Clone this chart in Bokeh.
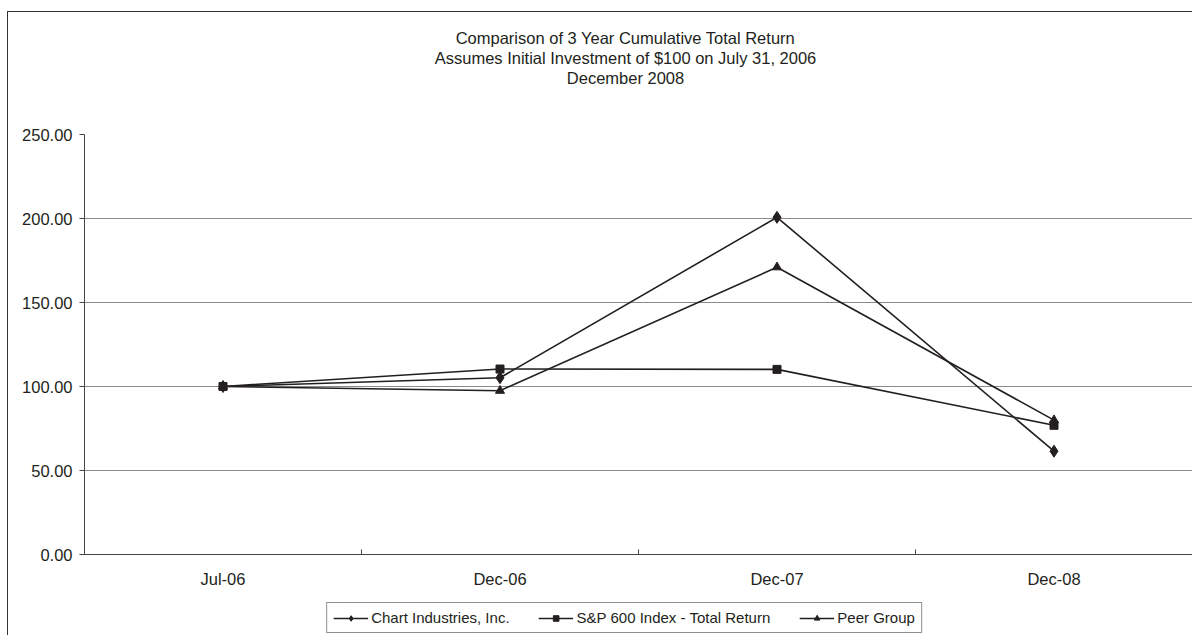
from bokeh.plotting import figure
from bokeh.embed import file_html
from bokeh.resources import INLINE
from bokeh.layouts import column
from bokeh.models import (FixedTicker, NumeralTickFormatter, Legend, LegendItem,
                          Range1d, Title)

categories = ["Jul-06", "Dec-06", "Dec-07", "Dec-08"]
chart_vals = [100.0, 105.2, 200.7, 61.5]
sp600_vals = [100.0, 110.4, 110.2, 76.9]
peer_vals = [100.0, 97.5, 171.0, 80.0]
y_ticks = [0, 50, 100, 150, 200, 250]
series_names = ["Chart Industries, Inc.", "S&P 600 Index - Total Return", "Peer Group"]
title_lines = ["Comparison of 3 Year Cumulative Total Return",
               "Assumes Initial Investment of $100 on July 31, 2006",
               "December 2008"]

FONT = "Liberation Sans"
INK = "#231f20"
FS = "16.5px"

xs = [i + 0.5 for i in range(len(categories))]

# ---- header strip with the three title lines ----
hd = figure(width=1184, height=80, output_backend="svg", toolbar_location=None,
            x_range=Range1d(0, 1), y_range=Range1d(0, 1),
            x_axis_type=None, y_axis_type=None, frame_align=False,
            min_border_left=50, min_border_right=0, min_border_top=74,
            min_border_bottom=4, outline_line_color=None, title_location=None)
hd.grid.visible = False
for line in reversed(title_lines):  # first added sits nearest the frame
    hd.add_layout(Title(text=line, align="center", text_font=FONT,
                        text_font_size=FS, text_font_style="normal",
                        text_color=INK, standoff=0), "above")

# ---- main chart ----
p = figure(width=1184, height=502, output_backend="svg", toolbar_location=None,
           x_range=Range1d(0, len(categories)), y_range=Range1d(0, 250),
           min_border_left=76, min_border_right=0, min_border_top=42,
           min_border_bottom=40, outline_line_color=None, title_location=None)

p.yaxis.ticker = FixedTicker(ticks=y_ticks)
p.yaxis.formatter = NumeralTickFormatter(format="0.00")
p.yaxis.major_tick_out = 5
p.yaxis.major_tick_in = 0
p.yaxis.minor_tick_line_color = None
p.yaxis.major_label_standoff = 7
p.yaxis.axis_line_color = "#444"
p.yaxis.major_tick_line_color = "#444"
p.yaxis.major_label_text_font = FONT
p.yaxis.major_label_text_font_size = FS
p.yaxis.major_label_text_color = INK

p.xaxis.ticker = FixedTicker(ticks=xs, minor_ticks=list(range(len(categories) + 1)))
p.xaxis.major_label_overrides = {x: c for x, c in zip(xs, categories)}
p.xaxis.major_tick_in = 0
p.xaxis.major_tick_out = 0
p.xaxis.minor_tick_in = 5
p.xaxis.minor_tick_out = 0
p.xaxis.minor_tick_line_color = "#444"
p.xaxis.axis_line_color = "#444"
p.xaxis.major_label_standoff = 15
p.xaxis.major_label_text_font = FONT
p.xaxis.major_label_text_font_size = FS
p.xaxis.major_label_text_color = INK

p.xgrid.visible = False
p.ygrid.grid_line_color = "#8a8a8a"
p.ygrid.grid_line_width = 1.2

specs = [(chart_vals, "diamond", 12), (sp600_vals, "square", 8), (peer_vals, "triangle", 9)]
for vals, marker, size in specs:
    p.line(xs, vals, line_color=INK, line_width=1.6)
    p.scatter(xs, vals, marker=marker, size=size, fill_color=INK, line_color=INK)

# ---- legend strip below the chart ----
lg = figure(width=1184, height=41, output_backend="svg", toolbar_location=None,
            x_range=Range1d(0, 1), y_range=Range1d(-1, 0),
            x_axis_type=None, y_axis_type=None, frame_align=False,
            min_border_left=48, min_border_right=0, min_border_top=0,
            min_border_bottom=0, outline_line_color=None, title_location=None)
lg.grid.visible = False
items = []
for name, (vals, marker, size) in zip(series_names, specs):
    # same series, drawn outside this strip's visible range: only the legend keys show
    ln = lg.line(xs, vals, line_color=INK, line_width=1.6)
    sc = lg.scatter(xs, vals, marker=marker, size=size, fill_color=INK, line_color=INK)
    items.append(LegendItem(label=name, renderers=[ln, sc]))
legend = Legend(items=items, orientation="horizontal", location="top_center",
                label_text_font=FONT, label_text_font_size="15px", label_text_color=INK,
                glyph_width=35, glyph_height=14, label_height=14, label_standoff=3,
                spacing=29, padding=6, margin=8,
                border_line_color=INK, border_line_width=1, background_fill_alpha=1)
lg.add_layout(legend, "center")

layout = column(hd, p, lg, spacing=0,
                styles={"border-top": "1px solid #333", "border-left": "1px solid #333",
                        "margin-top": "11px", "margin-left": "7px"})

open("out.html", "w").write(file_html(layout, INLINE))
